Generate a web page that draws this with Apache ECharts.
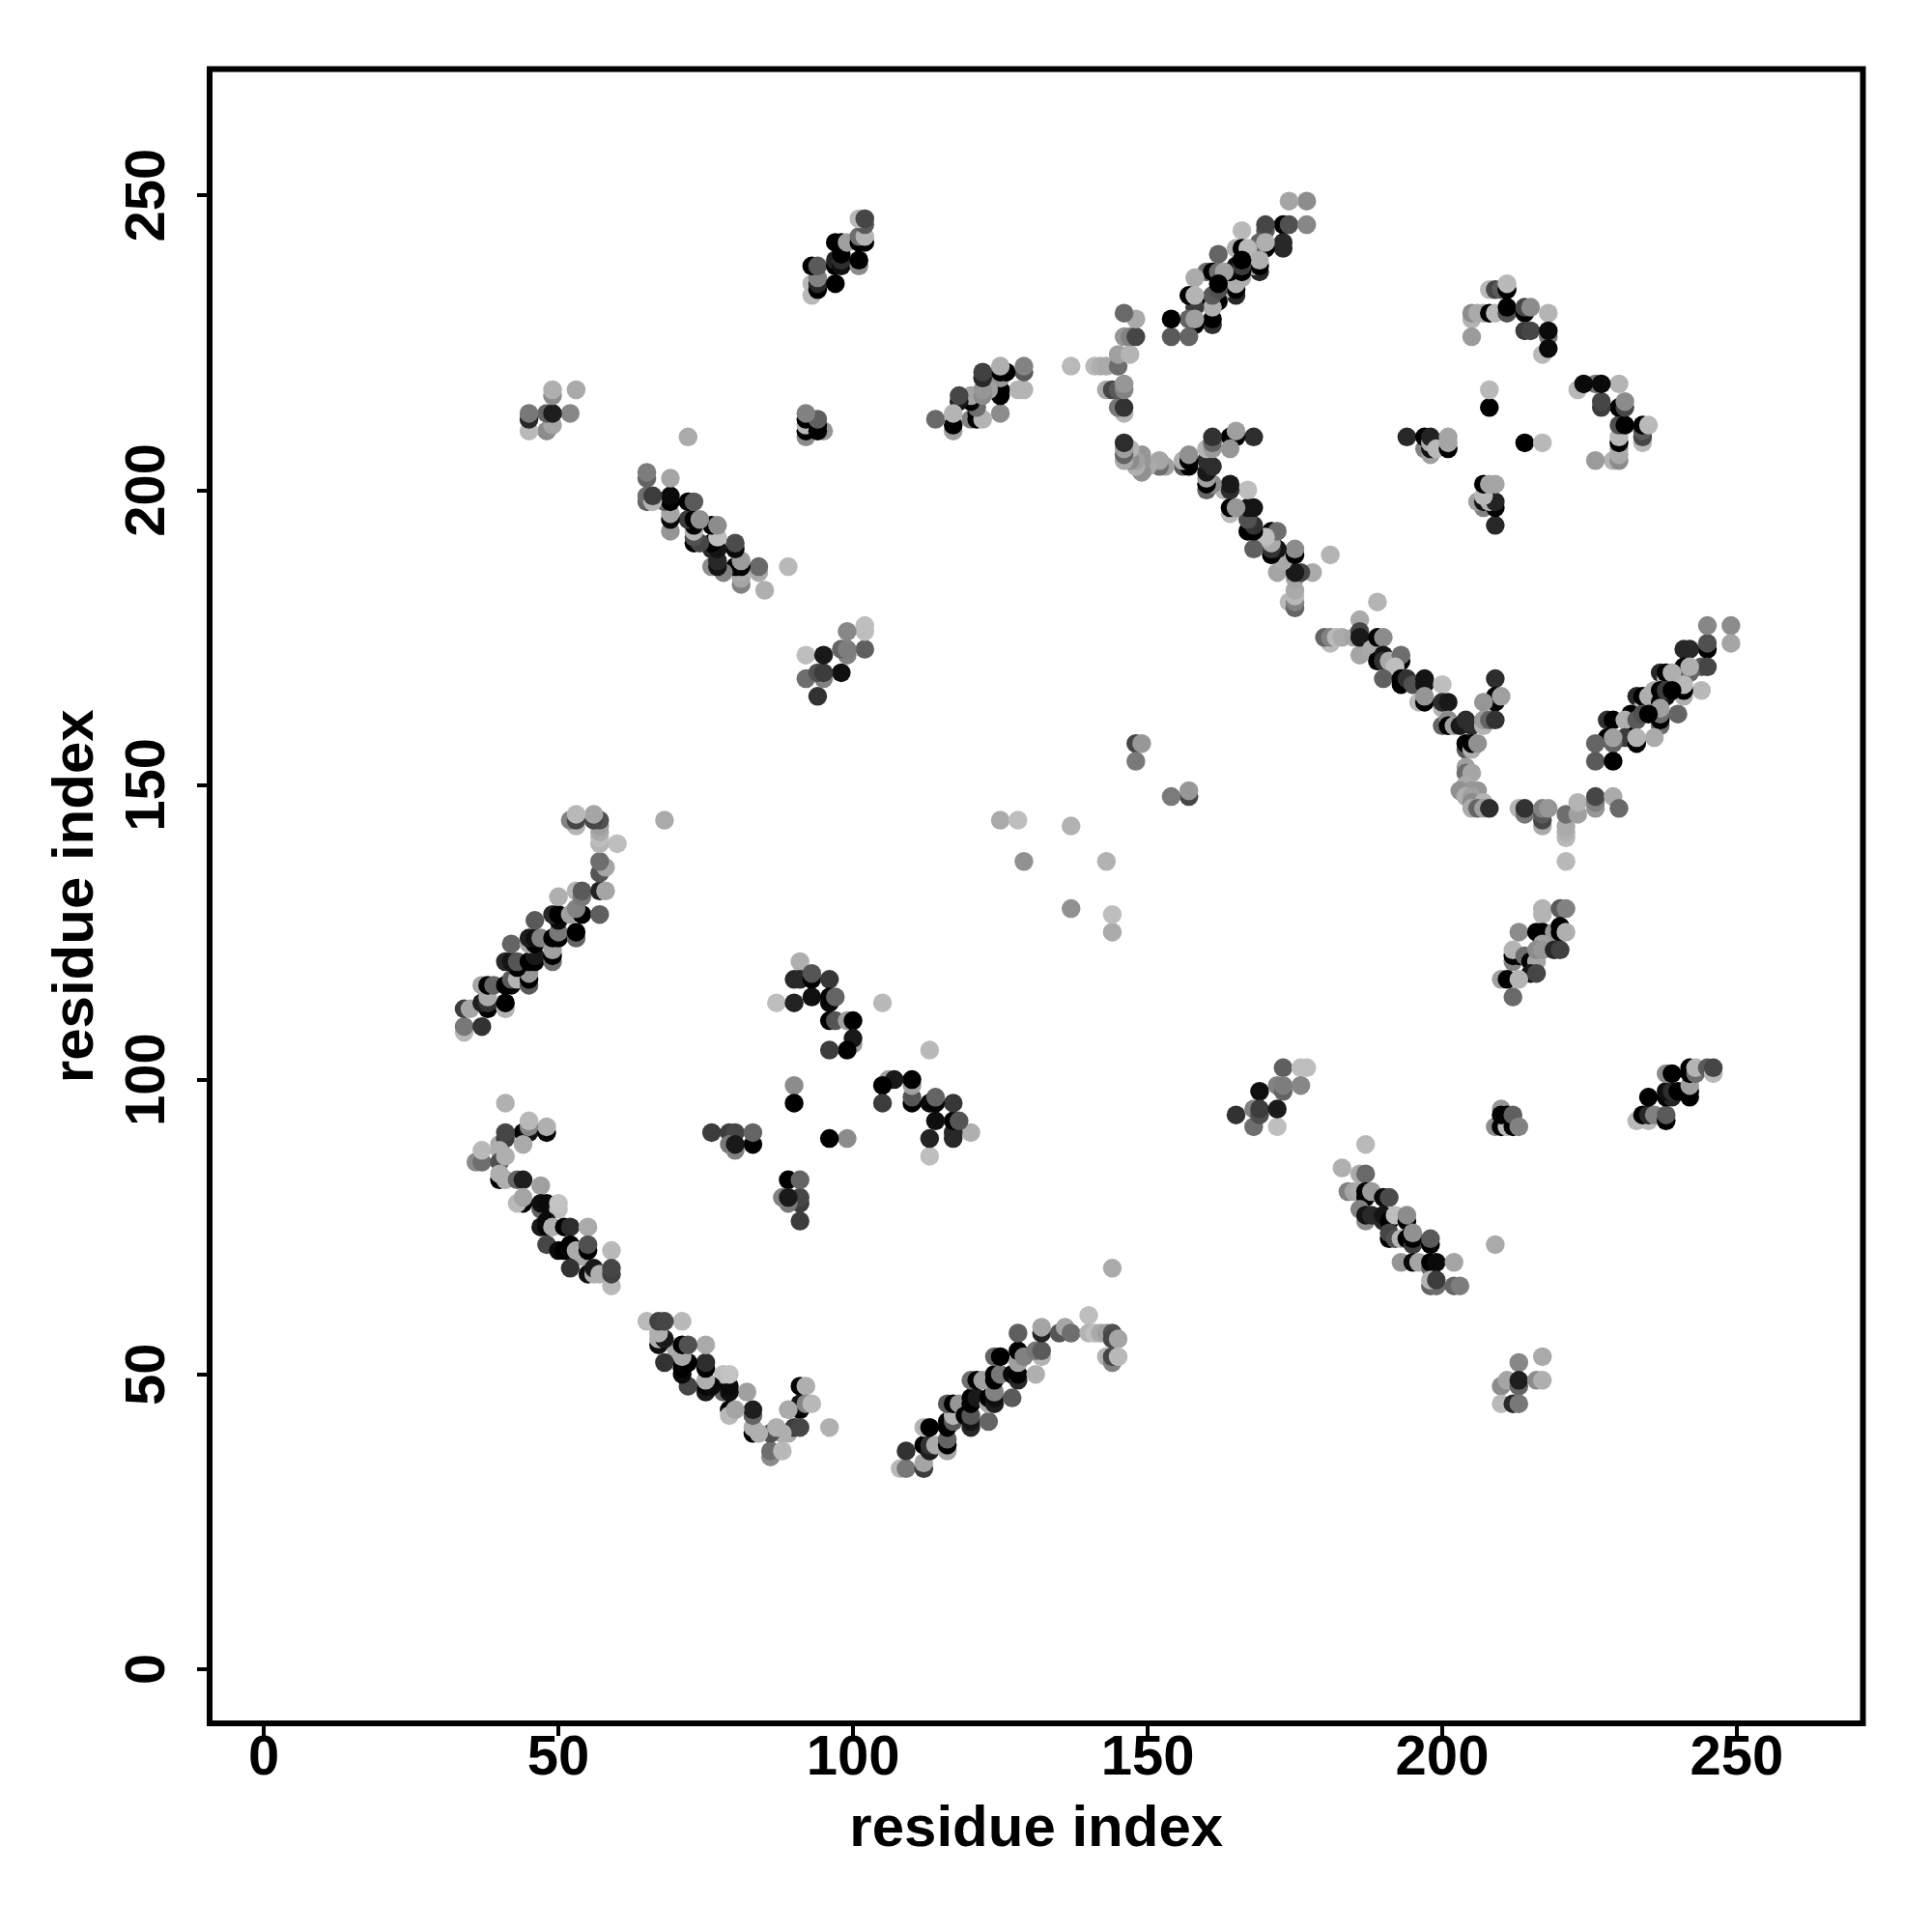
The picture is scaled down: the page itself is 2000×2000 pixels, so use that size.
<!DOCTYPE html>
<html>
<head>
<meta charset="utf-8">
<script src="https://cdn.jsdelivr.net/npm/echarts@6/dist/echarts.min.js"></script>
<style>html,body{margin:0;padding:0;background:#fff}#c{width:2000px;height:2000px}</style>
</head>
<body>
<div id="c"></div>
<script>
const tickValues = [0, 50, 100, 150, 200, 250];
const axisTitle = 'residue index';
// each contact: [residue a, residue b, grey level]; the map is symmetric, so each is seen at (a,b) and (b,a)
const contactsHelixA = [[41,96,176],[48,91,5],[48,92,175],[44,91,5],[45,91,20],[45,92,135],[45,93,185],[40,89,170],[44,89,170],[41,90,60],[41,91,70],[36,86,140],[37,86,110],[37,88,185],[40,88,175],[40,86,80],[41,87,175],[40,83,0],[40,84,175],[41,83,175],[43,83,100],[44,83,30],[47,82,160],[44,79,0],[43,79,185],[44,80,165],[47,78,100],[47,79,15],[48,79,10],[50,78,190],[50,79,195],[47,75,25],[48,75,5],[48,76,10],[49,75,175],[51,75,0],[52,75,45],[55,75,170],[48,72,70],[50,71,10],[51,71,0],[52,71,5],[52,72,0],[53,71,170],[54,70,170],[55,71,0],[55,72,80],[59,71,185],[52,68,50],[55,67,15],[56,67,175],[56,68,25],[57,67,175],[59,65,185],[59,67,65],[59,68,70]];
const contactsCentre = [[87,113,190],[105,113,185],[91,120,175],[90,117,40],[91,117,40],[93,117,0],[93,118,85],[96,117,55],[90,113,35],[93,114,15],[96,113,10],[96,114,5],[97,114,100],[96,110,0],[97,110,85],[99,110,160],[100,110,0],[100,106,160],[100,107,25],[99,105,0],[96,105,60],[90,99,140],[90,96,0],[76,91,60],[79,91,60],[80,91,70],[83,89,0],[83,91,100],[79,89,120],[80,88,130],[80,89,25]];
const contactsRisingLow = [[108,34,185],[109,34,120],[109,37,50],[112,34,60],[112,35,165],[112,38,0],[113,37,30],[113,38,50],[112,41,180],[113,41,0],[114,38,170],[116,37,165],[116,38,0],[116,39,100],[116,41,0],[116,42,0],[117,42,90],[117,43,180],[116,45,90],[117,45,0],[118,45,150],[119,43,0],[120,41,40],[120,42,20],[120,43,85],[120,45,0],[120,46,0],[121,46,25],[123,42,100],[123,45,170],[123,46,0],[124,45,30],[124,46,15],[124,47,130],[120,49,110],[121,49,0],[122,49,160],[124,49,0],[124,50,0],[125,50,120],[124,53,100],[125,53,0],[127,46,90],[127,50,10],[128,49,40],[128,50,0],[128,52,160],[128,54,0],[129,53,130],[128,57,95],[131,50,175],[132,53,180],[131,54,120],[132,54,90],[132,57,35],[132,58,165],[135,57,85],[136,58,165],[137,57,110],[140,60,190],[140,57,180],[141,57,190],[142,57,170],[143,57,160],[144,57,80],[144,56,70],[145,56,165],[143,53,180],[144,52,130],[144,53,70],[145,53,185],[144,68,170]];
const contactsFallingMid = [[187,89,185],[183,85,175],[186,84,170],[187,84,105],[184,81,130],[185,81,165],[186,81,170],[187,80,0],[187,81,0],[188,81,155],[190,80,10],[191,80,75],[186,78,130],[187,76,140],[187,77,20],[188,77,40],[190,76,40],[190,77,20],[191,76,0],[192,77,190],[194,76,0],[194,77,140],[191,73,0],[191,74,70],[192,73,80],[193,73,180],[194,73,0],[195,72,60],[195,73,0],[195,74,145],[198,72,0],[198,73,90],[193,69,150],[195,69,10],[196,69,165],[198,68,100],[198,69,0],[199,69,10],[202,69,165],[198,65,100],[199,65,110],[198,66,180],[199,66,60],[202,65,100],[203,65,125],[209,72,170]];
const contactsSmallLow = [[217,53,170],[213,52,135],[210,48,140],[211,49,165],[213,48,100],[213,49,30],[216,49,140],[217,49,175],[210,45,185],[212,45,40],[213,45,120]];
const contactsSmallMid = [[165,94,50],[173,102,95],[176,102,190],[177,102,190],[169,98,15],[172,99,130],[173,98,100],[173,99,125],[176,99,135],[168,92,110],[172,92,190],[168,95,130],[169,94,80],[169,95,60],[172,95,25]];
const contactsTiny = [[209,92,140],[210,92,0],[211,92,185],[212,92,0],[210,95,150],[210,94,0],[211,94,0],[212,94,95],[213,92,130]];
const contactsStrandRight = [[233,93,185],[235,93,185],[234,94,0],[235,94,40],[236,94,130],[238,93,0],[238,94,90],[235,97,0],[238,97,0],[239,97,35],[238,98,15],[239,98,45],[240,98,0],[242,97,0],[242,98,0],[242,99,160],[238,101,140],[239,101,0],[242,101,0],[242,102,0],[243,101,110],[243,102,180],[245,102,90],[246,101,185],[246,102,70]];
const contactsUpperPatch = [[217,129,180],[217,128,180],[220,129,90],[221,129,130],[213,125,140],[216,125,0],[217,125,0],[219,125,150],[220,126,0],[220,125,0],[221,125,175],[212,120,130],[212,121,0],[213,121,0],[212,122,180],[214,121,110],[215,120,0],[216,120,165],[215,118,20],[216,118,70],[217,123,160],[216,122,140],[217,122,150],[219,122,40],[220,122,65],[210,117,160],[211,117,0],[213,117,180],[212,114,105]];
const contactsSparse = [[125,144,170],[128,144,190],[129,137,145],[137,143,178],[148,157,70],[149,157,152],[148,154,122]];
const contactsArmRight = [[245,173,0],[245,174,80],[245,177,135],[249,177,140],[249,174,165],[241,173,40],[242,173,40],[244,170,90],[245,170,70],[244,166,185],[241,169,0],[241,170,0],[242,169,100],[242,170,175],[241,165,175],[241,166,0],[241,167,185],[237,169,40],[238,168,180],[238,169,0],[239,169,175],[233,165,40],[234,163,180],[234,165,0],[235,165,175],[236,166,175],[237,164,0],[237,166,0],[238,165,15],[238,166,60],[239,166,0],[240,162,100],[237,160,110],[237,161,0],[237,162,110],[237,163,160],[236,158,170],[228,161,50],[229,161,0],[232,160,0],[232,162,0],[231,161,175],[233,161,90],[234,162,80],[235,162,0],[231,158,60],[233,157,0],[233,158,180],[228,158,0],[229,157,100],[229,158,160],[226,157,100],[226,154,90],[229,154,0]];
const contactsArmBase = [[213,146,180],[214,145,120],[214,146,50],[217,143,170],[217,144,70],[217,145,90],[217,146,130],[218,146,150],[221,141,185],[221,142,175],[221,143,170],[221,145,110],[221,137,185],[223,145,160],[223,147,180],[226,146,150],[226,147,130],[226,148,70],[229,148,170],[230,146,105]];
const contactsLongStrand = [[189,181,180],[186,178,170],[186,172,165],[181,174,185],[180,175,100],[181,175,130],[182,175,185],[183,175,170],[185,175,165],[186,176,70],[186,175,25],[188,173,170],[189,175,0],[190,175,140],[189,171,0],[190,172,20],[190,171,50],[191,171,170],[193,171,0],[193,172,110],[192,170,190],[190,168,95],[193,167,0],[193,168,0],[194,168,50],[195,167,80],[197,167,20],[197,168,20],[200,167,190],[196,164,185],[197,164,0],[197,165,150],[200,163,180],[200,164,45],[201,164,25],[209,168,45],[209,164,0],[209,165,0],[210,165,160],[207,164,150],[200,160,100],[201,161,140],[201,160,0],[202,160,160],[203,160,25],[204,161,45],[205,160,45],[204,156,90],[204,157,0],[205,156,175],[205,157,0],[206,157,145],[207,160,180],[207,161,155],[208,161,100],[209,161,50]];
const contactsElbow = [[204,153,160],[204,152,110],[205,152,165],[204,150,170],[203,149,145],[205,149,150],[206,149,150],[204,148,175],[205,148,160],[205,147,140],[207,147,180],[205,146,170],[206,146,100],[207,146,160],[208,146,45]];
const contactsTopRight = [[205,229,180],[205,230,140],[205,226,155],[206,230,170],[207,230,170],[208,230,0],[209,230,185],[208,234,185],[209,234,70],[210,234,90],[211,234,0],[211,235,185],[211,230,80],[211,231,0],[214,230,0],[214,231,70],[215,231,140],[214,227,60],[215,227,70],[218,230,180],[218,226,120],[218,227,10],[217,223,185],[218,224,10]];
const contactsLeftTopRight = [[194,209,40],[197,207,130],[197,209,0],[198,206,160],[198,207,20],[198,208,175],[198,209,35],[199,207,185],[201,207,0],[201,208,165],[201,209,165],[208,214,0],[208,217,185]];

const allContacts = [contactsHelixA, contactsCentre, contactsRisingLow, contactsFallingMid, contactsSmallLow, contactsSmallMid, contactsTiny, contactsStrandRight, contactsUpperPatch, contactsSparse, contactsArmRight, contactsArmBase, contactsLongStrand, contactsElbow, contactsTopRight, contactsLeftTopRight].flat();
const points = allContacts.concat(allContacts.map(c => [c[1], c[0], c[2]]));

const font = '"Liberation Sans", Arial, sans-serif';
const axisCommon = {
  type: 'value', min: -9.2, max: 271.4,
  name: axisTitle, nameLocation: 'middle',
  nameTextStyle: { fontFamily: font, fontWeight: 'bold', fontSize: 60, color: '#000' },
  axisLine: { show: false, onZero: false },
  splitLine: { show: false },
  axisTick: { show: true, length: 13, lineStyle: { color: '#000', width: 4 }, customValues: tickValues },
  axisLabel: { show: true, customValues: tickValues, fontFamily: font, fontWeight: 'bold', fontSize: 58, color: '#000', margin: 8, hideOverlap: false, showMinLabel: true, showMaxLabel: true }
};
const chart = echarts.init(document.getElementById('c'), null, { renderer: 'canvas' });
chart.setOption({
  animation: false,
  backgroundColor: '#fff',
  grid: { left: 217, top: 71.5, width: 1711.5, height: 1712.5, show: true, borderColor: '#000', borderWidth: 6, backgroundColor: 'transparent' },
  xAxis: Object.assign({}, axisCommon, { nameGap: 80 }),
  yAxis: Object.assign({}, axisCommon, { nameGap: 108, nameRotate: 90,
    axisLabel: Object.assign({}, axisCommon.axisLabel, { rotate: 90, margin: 34 }) }),
  series: [{
    type: 'scatter', symbol: 'circle', symbolSize: 19.5, data: points,
    encode: { x: 0, y: 1 },
    itemStyle: { opacity: 1, color: p => { const g = p.data[2]; return 'rgb(' + g + ',' + g + ',' + g + ')'; } },
    emphasis: { disabled: true }, silent: true, clip: false
  }]
});
</script>
</body>
</html>
